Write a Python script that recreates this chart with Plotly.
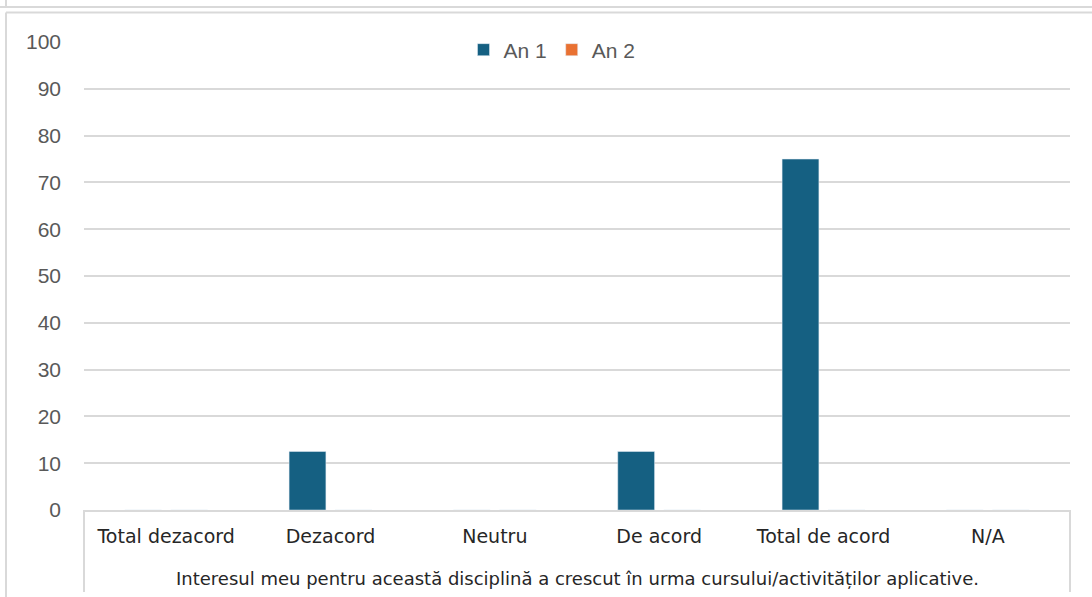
import plotly.graph_objects as go

categories = ["Total dezacord", "Dezacord", "Neutru", "De acord", "Total de acord", "N/A"]
an1 = [0, 12.5, 0, 12.5, 75, 0]
an2 = [0, 0, 0, 0, 0, 0]
series_names = ["An 1", "An 2"]
y_ticks = [0, 10, 20, 30, 40, 50, 60, 70, 80, 90, 100]
group_title = "Interesul meu pentru această disciplină a crescut în urma cursului/activităților aplicative."

W, H = 1092, 597
L, R, T, B = 84, 22, 42, 87
PW, PH = W - L - R, H - T - B
GRID = "#d9d9d9"
CAT_FONT = "DejaVu Sans"
NUM_FONT = "Liberation Sans"


def px(x):
    return (x - L) / PW


def py(y):
    return (H - B - y) / PH


fig = go.Figure()
fig.add_trace(go.Bar(x=categories, y=an1, name=series_names[0], marker_color="#156082"))
fig.add_trace(go.Bar(x=categories, y=an2, name=series_names[1], marker_color="#e97132"))

# frame lines (cropped chart borders) and the category group box
frame = [
    (0, 7, W, 7), (6, 0, 6, 7),
    (6, 12.5, W, 12.5), (6, 12.5, 6, H),
    (L, H - B, L, 592), (W - R, H - B, W - R, 592),
]
for x0, y0, x1, y1 in frame:
    fig.add_shape(type="line", xref="paper", yref="paper",
                  x0=px(x0), y0=py(y0), x1=px(x1), y1=py(y1),
                  line=dict(color=GRID, width=2))

fig.add_annotation(text=group_title, xref="paper", yref="paper",
                   x=0.5, y=py(578), xanchor="center", yanchor="middle", showarrow=False,
                   font=dict(size=18, color="#262626", family=CAT_FONT))

fig.update_layout(
    width=W, height=H,
    margin=dict(l=L, r=R, t=T, b=B),
    plot_bgcolor="white", paper_bgcolor="white",
    barmode="group", bargap=0.44, bargroupgap=0.2,
    font=dict(family=NUM_FONT, size=17, color="#595959"),
    legend=dict(orientation="h", x=px(552), xanchor="center", y=py(50), yanchor="middle",
                font=dict(size=21, color="#595959", family=NUM_FONT), itemwidth=30,
                bgcolor="rgba(0,0,0,0)"),
)
fig.update_xaxes(showline=True, linecolor=GRID, linewidth=2, showgrid=False,
                 tickfont=dict(size=19, color="#262626", family=CAT_FONT),
                 ticks="", ticklabelstandoff=8)
fig.update_yaxes(range=[0, 100.02], tickvals=y_ticks, showgrid=True, gridcolor=GRID, gridwidth=2,
                 zeroline=False, ticks="", ticklabelstandoff=22,
                 tickfont=dict(size=21, color="#595959", family=NUM_FONT))

fig.write_html("out.html", config={"displayModeBar": False},
               post_script="document.body.style.margin='0';")
